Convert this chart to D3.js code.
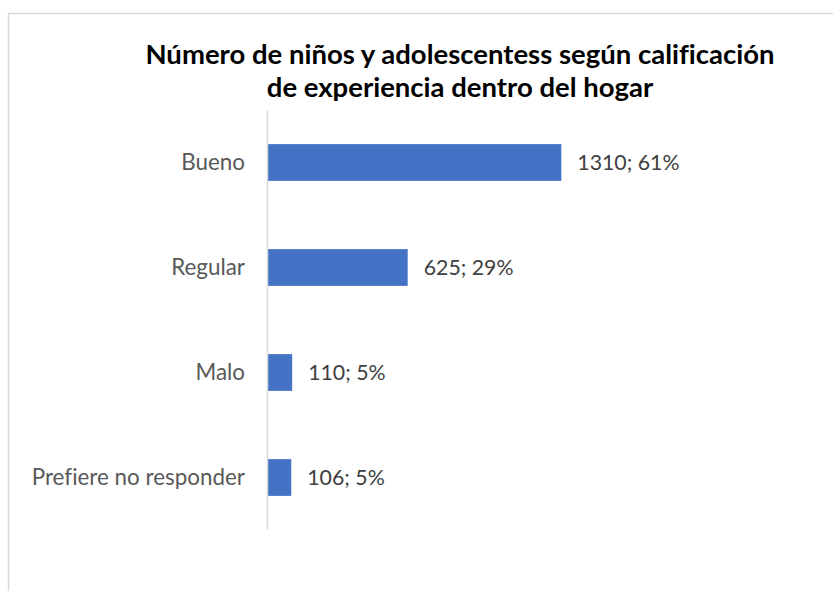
<!DOCTYPE html>
<html>
<head>
<meta charset="utf-8">
<script src="https://cdn.jsdelivr.net/npm/d3@7"></script>
<style>
  body { margin: 0; background: #fff; }
  text { font-family: Lato, "Open Sans", sans-serif; font-variant-ligatures: none; }
</style>
</head>
<body>
<div id="chart"></div>
<script>
const categories = ["Bueno", "Regular", "Malo", "Prefiere no responder"];
const counts = [1310, 625, 110, 106];
const percents = [61, 29, 5, 5];
const titleLines = ["Número de niños y adolescentess según calificación", "de experiencia dentro del hogar"];

const data = categories.map((c, i) => ({ cat: c, n: counts[i], pct: percents[i] }));

const W = 833, H = 591;

const svg = d3.select("#chart")
    .append("svg")
    .attr("width", W)
    .attr("height", H);

// chart border (runs off the right and bottom edges)
svg.append("rect")
    .attr("x", 8.5)
    .attr("y", 13.5)
    .attr("width", 900)
    .attr("height", 700)
    .attr("fill", "#fff")
    .attr("stroke", "#d9d9d9")
    .attr("stroke-width", 1.5);

// title
svg.append("text")
    .attr("x", 460)
    .attr("y", 64)
    .attr("text-anchor", "middle")
    .style("font-weight", "bold")
    .style("font-size", "27.5px")
    .attr("fill", "#000")
    .selectAll("tspan")
    .data(titleLines)
    .enter()
    .append("tspan")
    .attr("x", 460)
    .attr("dy", (d, i) => i === 0 ? 0 : 33)
    .text(d => d);

const x = d3.scaleLinear()
    .domain([0, 1400])
    .range([267.5, 581.5]);

const y = d3.scaleBand()
    .domain(categories)
    .range([110, 530])
    .paddingInner(0.65)
    .paddingOuter(0.325);

svg.selectAll(".bar")
    .data(data)
    .enter()
    .append("rect")
    .attr("class", "bar")
    .attr("x", x(0))
    .attr("y", d => y(d.cat))
    .attr("width", d => x(d.n) - x(0))
    .attr("height", y.bandwidth())
    .attr("fill", "#4472c4");

// vertical axis line, no ticks
svg.append("line")
    .attr("x1", x(0))
    .attr("x2", x(0))
    .attr("y1", y.range()[0])
    .attr("y2", y.range()[1])
    .attr("stroke", "#d9d9d9")
    .attr("stroke-width", 1.5);

svg.selectAll(".cat")
    .data(data)
    .enter()
    .append("text")
    .attr("class", "cat")
    .attr("x", 245)
    .attr("y", d => y(d.cat) + y.bandwidth() / 2)
    .attr("dy", "0.35em")
    .attr("text-anchor", "end")
    .attr("fill", "#595959")
    .style("font-size", "22.4px")
    .text(d => d.cat);

svg.selectAll(".val")
    .data(data)
    .enter()
    .append("text")
    .attr("class", "val")
    .attr("x", d => x(d.n) + 16)
    .attr("y", d => y(d.cat) + y.bandwidth() / 2)
    .attr("dy", "0.35em")
    .attr("fill", "#404040")
    .style("font-size", "21.3px")
    .text(d => d.n + "; " + d.pct + "%");
</script>
</body>
</html>
